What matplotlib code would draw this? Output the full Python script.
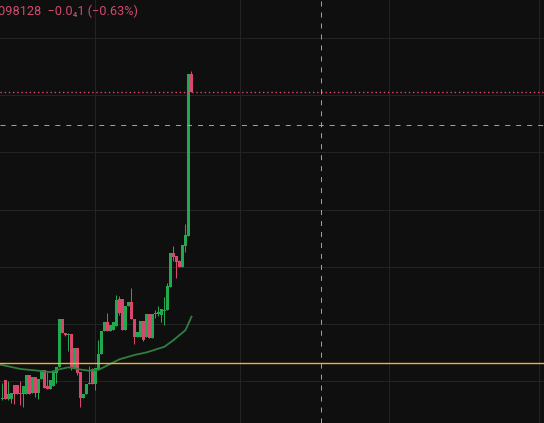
import matplotlib
matplotlib.use("Agg")
import matplotlib.pyplot as plt
import numpy as np

# OHLC prices in units of 1e-5 (candle index 1..64)
opens = [53.8, 60.5, 53.8, 53.8, 58.7, 58.7, 55.9, 55.6, 55.6, 62.2,
         55.9, 61.5, 55.9, 60.8, 64.0, 58.4, 57.3, 58.4, 62.9, 65.0,
         81.8, 76.9, 76.2, 76.5, 64.7, 71.6, 63.3, 54.2, 55.6, 59.1,
         64.3, 59.1, 64.3, 69.5, 77.6, 80.7, 77.6, 77.9, 79.3, 88.8,
         88.8, 77.9, 86.3, 87.7, 81.8, 75.5, 75.5, 81.1, 75.5, 83.5,
         75.1, 83.5, 83.5, 83.2, 84.6, 84.9, 93.0, 104.9, 103.8, 102.1,
         100.0, 107.4, 110.9, 167.4]
highs = [59.4, 60.5, 60.1, 55.9, 58.7, 58.7, 60.1, 58.4, 62.2, 62.2,
         61.5, 61.5, 60.8, 64.0, 64.0, 63.3, 60.5, 63.3, 65.0, 81.8,
         81.8, 76.9, 76.9, 76.5, 71.6, 71.6, 63.3, 55.6, 59.1, 65.4,
         64.7, 64.7, 74.4, 77.6, 80.7, 83.9, 79.7, 80.7, 90.2, 89.8,
         88.8, 86.3, 87.7, 92.6, 81.8, 77.2, 81.1, 81.1, 83.5, 83.5,
         83.5, 84.9, 86.3, 85.3, 89.5, 94.4, 104.9, 107.3, 103.8, 102.4,
         107.7, 115.0, 167.4, 168.5]
lows = [53.5, 53.8, 53.5, 52.4, 52.1, 55.6, 51.7, 51.0, 55.6, 55.6,
        55.9, 54.5, 53.8, 60.8, 57.7, 57.3, 57.3, 58.4, 59.4, 65.0,
        76.9, 75.8, 70.6, 64.0, 64.7, 62.2, 51.0, 54.2, 55.6, 59.1,
        59.1, 57.0, 64.3, 69.5, 77.6, 77.6, 77.6, 77.9, 79.3, 83.2,
        77.9, 77.9, 86.3, 81.8, 73.0, 75.5, 75.5, 74.1, 75.5, 75.1,
        75.1, 82.1, 82.8, 80.7, 79.7, 84.9, 93.0, 102.1, 96.1, 100.0,
        100.0, 105.3, 110.8, 161.1]
closes = [54.2, 53.8, 55.6, 55.9, 55.6, 55.6, 55.4, 58.4, 62.2, 55.6,
          61.5, 55.9, 60.8, 64.0, 57.7, 57.3, 60.5, 63.3, 65.0, 81.8,
          76.9, 76.2, 76.5, 64.7, 71.6, 62.9, 54.2, 55.6, 59.1, 59.4,
          59.1, 64.7, 69.5, 77.6, 80.7, 77.6, 79.7, 80.7, 88.4, 83.9,
          77.9, 86.3, 87.7, 81.8, 75.5, 77.2, 81.1, 74.4, 83.5, 75.1,
          83.5, 83.9, 84.2, 85.3, 84.9, 93.3, 104.9, 103.5, 101.7, 100.0,
          107.7, 111.2, 167.4, 161.1]

# moving average (read at a few candle indices)
ma_idx = [0, 7, 13, 17, 20, 23, 27, 30, 33, 36, 40, 45, 49, 55, 58, 62, 64]
ma_vals = [65.9, 64.3, 63.7, 63.2, 64.2, 64.9, 64.1, 63.7, 64.0, 65.6,
           67.7, 69.2, 70.1, 72.1, 74.4, 77.9, 82.6]

last_price = 161.1
level_line = 66.3
cross_x, cross_y = 107.3, 149.5
grid_y = [60, 80, 100, 120, 140, 160, 180]
grid_x = [32.0, 80.3, 129.9, 179.7]
legend_text = "098128  \u22120.0\u20841 (\u22120.63%)"

UP = "#22a94f"
DOWN = "#d9466e"
BG = "#0f0f0f"

plt.rcParams["lines.scale_dashes"] = False
fig = plt.figure(figsize=(5.44, 4.23), dpi=100, facecolor=BG)
ax = fig.add_axes([0, 0, 1, 1])
ax.set_facecolor(BG)
for s in ax.spines.values():
    s.set_visible(False)
ax.set_xticks([])
ax.set_yticks([])

px = 0.72  # 1 pixel in points

for gy in grid_y:
    ax.axhline(gy, color="#232323", lw=px, zorder=0)
for gx in grid_x:
    ax.axvline(gx, color="#232323", lw=px, zorder=0)

idx = np.arange(1, len(opens) + 1)
o = np.array(opens); c = np.array(closes)
h = np.array(highs); l = np.array(lows)
up = c >= o
cols = np.where(up, UP, DOWN)
bottom = np.minimum(o, c)
height = np.maximum(np.abs(c - o), 0.35)
ax.vlines(idx, l, h, colors=cols, lw=px, zorder=2)
ax.bar(idx, height, bottom=bottom, width=1.0, color=cols, linewidth=0, zorder=3)

ax.plot(ma_idx, ma_vals, color="#2f7f40", lw=1.3, zorder=4)

ax.axhline(level_line, color="#f2b233", lw=1.0, zorder=5)
ax.axhline(last_price, color="#e0486c", lw=1.0, linestyle=(0, (1.0, 2.0)), zorder=5)
ax.axhline(cross_y, color="#a0a0a0", lw=px, linestyle=(0, (3.6, 4.3)), zorder=6)
ax.axvline(cross_x, color="#a0a0a0", lw=px, linestyle=(0, (3.6, 4.3)), zorder=6)

ax.set_xlim(0.167, 181.5)
ax.set_ylim(45.42, 193.32)

fig.text(-2 / 544, 1 - 15.5 / 423, legend_text, color="#d04a6e",
         fontsize=9.2, va="baseline", ha="left",
         family=["Roboto", "DejaVu Sans"])

fig.savefig("out.png", dpi=100, facecolor=BG)
